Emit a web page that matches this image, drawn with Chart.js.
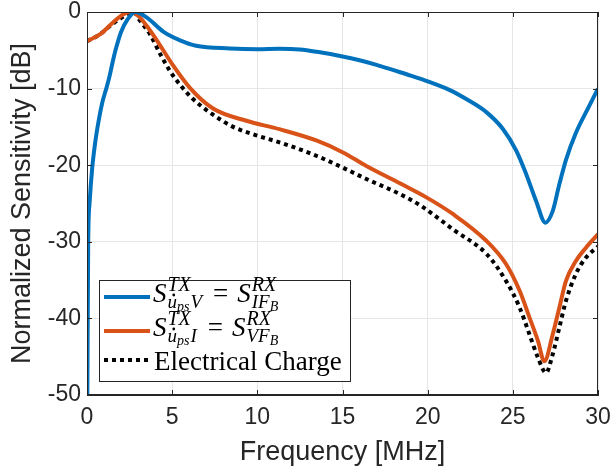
<!DOCTYPE html>
<html>
<head>
<meta charset="UTF-8">
<script src="https://cdn.jsdelivr.net/npm/chart.js"></script>
<title>Normalized Sensitivity</title>
<style>
  body{margin:0;background:#fff;}
  #wrap{width:613px;height:472px;}
</style>
</head>
<body>
<div id="wrap"><canvas id="myChart" width="613" height="472"></canvas></div>
<script>
// data
const xTicks = [0, 5, 10, 15, 20, 25, 30]
const yTicks = [-50, -40, -30, -20, -10, 0]

const blueFreq = [0.02, 0.07, 0.15, 0.3, 0.49, 0.7, 0.9, 1.13, 1.3, 1.5, 1.66, 2.0, 2.4, 2.83, 3.5, 4.5, 5.46, 6.4, 8.4, 10, 11.3, 12.5, 13.5, 15, 16, 17, 18, 19, 20, 21.3, 22.29, 23.46, 24.43, 25.2, 25.79, 26.37, 26.91, 27.34, 27.73, 28.12, 28.7, 29.48, 30]
const blueSens = [-50, -30, -25, -20.5, -16.9, -14, -11.8, -10, -8.6, -6.6, -5.1, -2.6, -0.9, 0, -0.7, -2.6, -3.7, -4.4, -4.75, -4.85, -4.8, -4.9, -5.2, -5.8, -6.3, -6.9, -7.6, -8.3, -9.05, -10.2, -11.4, -13.1, -15.3, -18.1, -21.2, -24.7, -27.5, -26, -22.5, -19.3, -15.8, -12.3, -10]

const orangeFreq = [0, 0.78, 1.56, 2.14, 2.53, 3.0, 3.5, 4.1, 5, 6.04, 7.4, 9.36, 11.3, 13.5, 15, 16.4, 18.4, 20, 21.5, 23.46, 24.6, 25.4, 25.98, 26.47, 26.85, 27.34, 27.73, 28.12, 28.7, 29.28, 30]
const orangeSens = [-3.8, -2.9, -1.3, -0.3, 0, -0.5, -1.8, -3.7, -6.8, -9.9, -12.6, -14.2, -15.3, -16.8, -18.3, -20.1, -22.4, -24.3, -26.4, -29.9, -32.9, -36.4, -39.9, -42.9, -45.6, -42.1, -38.6, -35.1, -32.5, -30.8, -29]

const chargeFreq = [0, 0.7, 1.36, 2.0, 2.73, 3.1, 3.7, 4.3, 4.87, 5.46, 6.24, 7.4, 8.58, 9.94, 11.56, 13.5, 15, 16.4, 18.4, 19.6, 21.5, 23.46, 24.6, 25.4, 25.98, 26.47, 26.95, 27.34, 27.73, 28.12, 28.7, 29.28, 30]
const chargeSens = [-3.8, -3.0, -1.8, -0.8, 0, -1.1, -2.9, -5.5, -7.7, -9.5, -11.4, -13.4, -15, -16.1, -17.2, -18.8, -20.3, -21.8, -23.8, -25.3, -28.4, -31.6, -35.1, -38.6, -42.1, -45.1, -47.1, -44.7, -41.2, -37.7, -34.2, -32.1, -30.6]

const toPts = (xs, ys) => xs.map((x, i) => ({x: x, y: ys[i]}))

const axisColor = '#262626'
const serif = '"Liberation Serif", "DejaVu Serif", serif'

// box + inward ticks like matlab
const boxPlugin = {
  id: 'box',
  afterDraw(chart){
    const c = chart.ctx, a = chart.chartArea
    const xs = chart.scales.x, ys = chart.scales.y
    c.save()
    c.strokeStyle = axisColor
    c.lineWidth = 1
    c.strokeRect(a.left + 0.5, a.top + 0.5, a.right - a.left - 1, a.bottom - a.top - 1)
    c.beginPath()
    xTicks.forEach(v => {
      const px = Math.round(xs.getPixelForValue(v)) + 0.5
      c.moveTo(px, a.bottom); c.lineTo(px, a.bottom - 5)
      c.moveTo(px, a.top); c.lineTo(px, a.top + 5)
    })
    yTicks.forEach(v => {
      const py = Math.round(ys.getPixelForValue(v)) + 0.5
      c.moveTo(a.left, py); c.lineTo(a.left + 5, py)
      c.moveTo(a.right, py); c.lineTo(a.right - 5, py)
    })
    c.stroke()
    c.restore()
  }
}

function seg(c, x, y, t, size, it){
  c.font = (it ? 'italic ' : '') + size + 'px ' + serif
  c.fillText(t, x, y)
  return x + c.measureText(t).width
}

// S^{TX}_{u dot ps + last} = S^{RX}_{sub2 B}
function mathLabel(c, x, b, last, sub2){
  let x1 = seg(c, x, b, 'S', 27, true) + 1
  let e1 = seg(c, x1, b - 11, 'TX', 20, true)
  let xu = seg(c, x1, b + 6, 'u', 19, true)
  c.beginPath(); c.arc((x1 + xu) / 2 + 1.5, b - 7, 1.4, 0, Math.PI * 2); c.fill()
  let xp = seg(c, xu, b + 9, 'ps', 14, true) + 1
  let e2 = seg(c, xp, b + 6, last, 19, true)
  let xx = Math.max(e1, e2) + 11
  xx = seg(c, xx, b, '=', 27, false) + 9
  let x2 = seg(c, xx, b, 'S', 27, true) + 1
  seg(c, x2, b - 11, 'RX', 20, true)
  let xs = seg(c, x2, b + 6, sub2, 19, true)
  seg(c, xs, b + 9, 'B', 14, true)
}

const legendPlugin = {
  id: 'mathLegend',
  afterDraw(chart){
    const c = chart.ctx
    const ds = chart.data.datasets
    c.save()
    c.fillStyle = '#fff'
    c.fillRect(99, 280, 251, 101)
    c.strokeStyle = axisColor
    c.lineWidth = 1
    c.strokeRect(99.5, 280.5, 251, 101)
    const rows = [297, 331, 360]
    rows.forEach((y, i) => {
      c.beginPath()
      c.strokeStyle = ds[i].borderColor
      c.lineWidth = ds[i].borderWidth
      c.setLineDash(ds[i].borderDash || [])
      c.moveTo(104, y); c.lineTo(150, y)
      c.stroke()
    })
    c.setLineDash([])
    c.fillStyle = '#000'
    c.textBaseline = 'alphabetic'
    mathLabel(c, 153, 302, 'V', 'IF')
    mathLabel(c, 153, 336, 'I', 'VF')
    seg(c, 154, 370, 'Electrical Charge', 27, false)
    c.restore()
  }
}

new Chart(document.getElementById('myChart'), {
  type: 'line',
  data: {
    datasets: [
      {label: 'blue', data: toPts(blueFreq, blueSens), borderColor: '#0072BD', borderWidth: 4, pointRadius: 0, cubicInterpolationMode: 'monotone', fill: false},
      {label: 'orange', data: toPts(orangeFreq, orangeSens), borderColor: '#D95319', borderWidth: 4, pointRadius: 0, cubicInterpolationMode: 'monotone', fill: false},
      {label: 'Electrical Charge', data: toPts(chargeFreq, chargeSens), borderColor: '#000000', borderWidth: 4, borderDash: [4, 4], pointRadius: 0, cubicInterpolationMode: 'monotone', fill: false}
    ]
  },
  options: {
    responsive: false,
    animation: false,
    devicePixelRatio: 1,
    layout: {padding: {top: 12, right: 15, left: 0, bottom: 0}},
    plugins: {legend: {display: false}, tooltip: {enabled: false}},
    scales: {
      x: {
        type: 'linear', min: 0, max: 30,
        afterBuildTicks: s => { s.ticks = xTicks.map(v => ({value: v})) },
        afterFit: s => { s.height = 77; s.paddingLeft = 0; s.paddingRight = 0 },
        grid: {color: '#e6e6e6', drawTicks: false},
        border: {color: axisColor},
        ticks: {color: axisColor, padding: 9, font: {family: 'Arial, "Liberation Sans"', size: 23}},
        title: {display: true, text: 'Frequency [MHz]', color: axisColor, padding: {top: 0, bottom: 3}, font: {family: 'Arial, "Liberation Sans"', size: 27}}
      },
      y: {
        min: -50, max: 0,
        afterBuildTicks: s => { s.ticks = yTicks.map(v => ({value: v})) },
        afterFit: s => { s.width = 87; s.paddingTop = 0; s.paddingBottom = 0 },
        grid: {color: '#e6e6e6', drawTicks: false},
        border: {color: axisColor},
        ticks: {color: axisColor, padding: 6, font: {family: 'Arial, "Liberation Sans"', size: 23}},
        title: {display: true, text: 'Normalized Sensitivity [dB]', color: axisColor, padding: {top: 6, bottom: 0}, font: {family: 'Arial, "Liberation Sans"', size: 27}}
      }
    }
  },
  plugins: [boxPlugin, legendPlugin]
})
</script>
</body>
</html>
